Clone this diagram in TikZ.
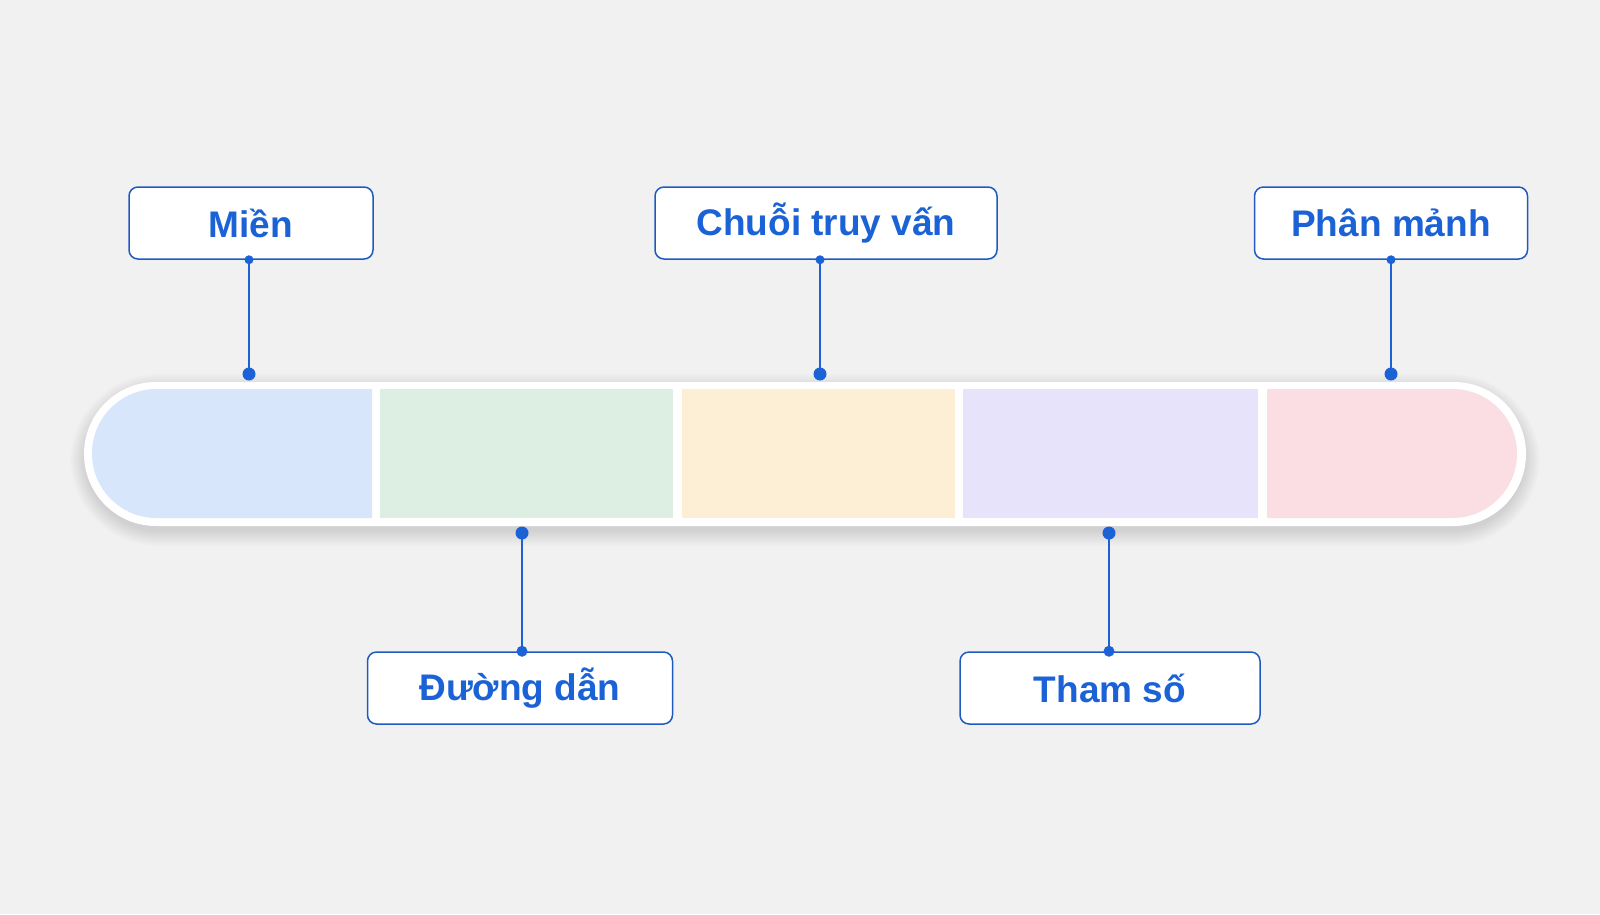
\documentclass[tikz,border=0pt]{standalone}
\usepackage{fontspec}
\setmainfont{Liberation Sans}
\usetikzlibrary{positioning}
\definecolor{bgc}{HTML}{F1F1F1}
\definecolor{linkc}{HTML}{1A62D6}
\definecolor{framec}{HTML}{1F5BBE}
\definecolor{segA}{HTML}{D8E6FB}
\definecolor{segB}{HTML}{DDEEE2}
\definecolor{segC}{HTML}{FDEFD6}
\definecolor{segD}{HTML}{E7E3FB}
\definecolor{segE}{HTML}{FBDDE4}
\tikzset{
  partbox/.style={draw=framec,line width=1.5pt,fill=white,rounded corners=9pt,
    text=linkc,minimum height=72pt,inner sep=0pt,
    font=\bfseries\fontsize{37}{44}\selectfont},
  link/.style={linkc,line width=2pt}
}
\begin{document}
\begin{tikzpicture}[x=1pt,y=-1pt]
\useasboundingbox[fill=bgc] (0,0) rectangle (1600,914);
% soft shadow under the bar
\foreach \s in {1,...,16}
  \fill[black,opacity=0.006,rounded corners=72pt+\s pt]
    (86-\s,390-\s) rectangle (1524+\s,530+\s);
% bar
\fill[white,rounded corners=72pt] (84,382) rectangle (1526,526);
\fill[segA] (372,389) [rounded corners=64.5pt] -- (92,389) -- (92,518) [sharp corners] -- (372,518) -- cycle;
\fill[segB] (380,389) rectangle (673,518);
\fill[segC] (682,389) rectangle (955,518);
\fill[segD] (963,389) rectangle (1258,518);
\fill[segE] (1267,389) [rounded corners=64.5pt] -- (1517,389) -- (1517,518) [sharp corners] -- (1267,518) -- cycle;
% labels
\node[partbox,minimum width=244pt] (mien) at (251,223) {Miền};
\node[partbox,minimum width=342pt] (chuoi) at (826,223) {Chuỗi truy vấn};
\node[partbox,minimum width=273pt] (phan) at (1391,223) {Phân mảnh};
\node[partbox,minimum width=305pt] (duong) at (520,688) {Đường dẫn};
\node[partbox,minimum width=300pt] (tham) at (1110,688) {Tham số};
% anchor points on the bar
\coordinate (pMien) at (249,374);
\coordinate (pChuoi) at (820,374);
\coordinate (pPhan) at (1391,374);
\coordinate (pDuong) at (522,533);
\coordinate (pTham) at (1109,533);
% connectors
\foreach \b/\p in {mien/pMien,chuoi/pChuoi,phan/pPhan}{
  \draw[link] (\p |- \b.south) -- (\p);
  \fill[linkc] (\p |- \b.south) circle (4.5pt);
  \fill[linkc] (\p) circle (6.5pt);
}
\foreach \b/\p in {duong/pDuong,tham/pTham}{
  \draw[link] (\p |- \b.north) -- (\p);
  \fill[linkc] (\p |- \b.north) circle (5.5pt);
  \fill[linkc] (\p) circle (6.5pt);
}
\end{tikzpicture}
\end{document}
